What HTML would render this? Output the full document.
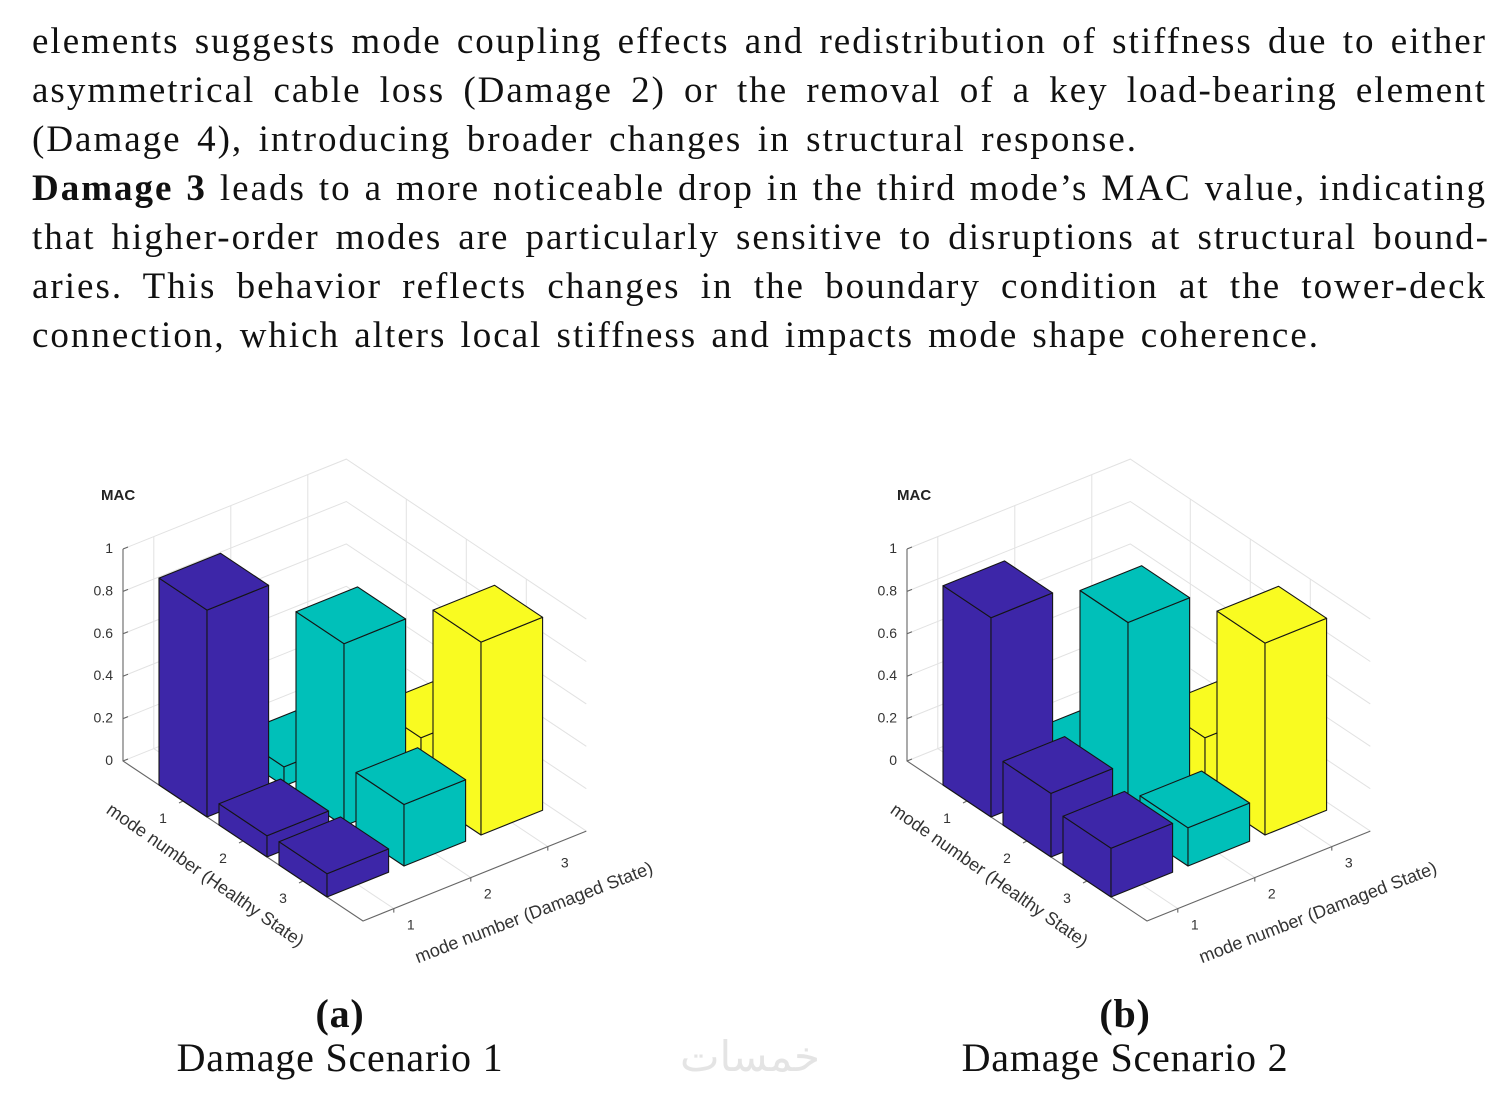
<!DOCTYPE html>
<html><head><meta charset="utf-8"><style>
html,body{margin:0;padding:0;background:#fff;}
#wrap{position:relative;width:1500px;height:1102px;overflow:hidden;background:#fff;}
.ln{position:absolute;left:32px;font-family:"Liberation Serif",serif;font-size:37px;letter-spacing:2.0px;color:#111;white-space:nowrap;text-align:justify;text-align-last:justify;height:49px;line-height:49px;}
.cap{position:absolute;font-family:"Liberation Serif",serif;font-size:40px;letter-spacing:0.8px;color:#111;text-align:center;width:500px;}
svg{position:absolute;left:0;top:0;}
</style></head><body>
<div id="wrap">
<div>
<div class="ln" style="top:17px;width:1455px">elements suggests mode coupling effects and redistribution of stiffness due to either</div>
<div class="ln" style="top:66px;width:1455px">asymmetrical cable loss (Damage 2) or the removal of a key load-bearing element</div>
<div class="ln" style="top:115px;width:1106px">(Damage 4), introducing broader changes in structural response.</div>
<div class="ln" style="top:164px;width:1455px"><b>Damage 3</b> leads to a more noticeable drop in the third mode’s MAC value, indicating</div>
<div class="ln" style="top:213px;width:1458px">that higher-order modes are particularly sensitive to disruptions at structural bound-</div>
<div class="ln" style="top:262px;width:1455px">aries. This behavior reflects changes in the boundary condition at the tower-deck</div>
<div class="ln" style="top:311px;width:1288px">connection, which alters local stiffness and impacts mode shape coherence.</div>
</div>
<svg id="chart" width="1500" height="1102" viewBox="0 0 1500 1102"></svg>
<div class="cap" style="left:90px;top:990px;font-weight:bold">(a)</div>
<div class="cap" style="left:90px;top:1034px">Damage Scenario 1</div>
<div class="cap" style="left:875px;top:990px;font-weight:bold">(b)</div>
<div class="cap" style="left:875px;top:1034px">Damage Scenario 2</div>
<div style="position:absolute;left:650px;top:1032px;width:200px;text-align:center;font-family:'DejaVu Sans',sans-serif;font-size:42px;color:#e4e4e4">خمسات</div>
</div>
<script>
const healthyCats = [1, 2, 3];
const damagedCats = [1, 2, 3];
const zTicks = [0, 0.2, 0.4, 0.6, 0.8, 1];
const zTickLabels = ["0", "0.2", "0.4", "0.6", "0.8", "1"];
// Scenario 1: values per damaged-mode column, indexed by healthy mode
const scen1Damaged1 = [0.976, 0.10, 0.11];
const scen1Damaged2 = [0.09, 0.86, 0.29];
const scen1Damaged3 = [0.05, 0.27, 0.91];
// Scenario 2
const scen2Damaged1 = [0.94, 0.30, 0.23];
const scen2Damaged2 = [0.09, 0.96, 0.18];
const scen2Damaged3 = [0.05, 0.27, 0.905];
const colColors = ["#3d26a8", "#00c0b9", "#f9fb21"];

const NS = "http://www.w3.org/2000/svg";
const svg = document.getElementById("chart");
const I0 = 0, I1 = 4, J0 = 0.6, J1 = 3.5;

function mk(tag, attrs, parent) {
  const e = document.createElementNS(NS, tag);
  for (const k in attrs) e.setAttribute(k, attrs[k]);
  (parent || svg).appendChild(e);
  return e;
}
function makeProj(ox) {
  return function (i, j, z) {
    return [ox + 159 + (i - 0.6) * 60 + (j - 0.6) * 77,
            785 + (i - 0.6) * 40 - (j - 0.6) * 31 - z * 212];
  };
}
function pts(arr) { return arr.map(p => p[0].toFixed(1) + "," + p[1].toFixed(1)).join(" "); }

function drawChart(ox, cols, key, macDx) {
  const P = makeProj(ox);
  const g = mk("g", {});
  
  
  const grid = mk("g", { stroke: "#e2e2e2", "stroke-width": 1, fill: "none" }, g);
  
  
  zTicks.forEach(z => {
    const a = P(I0, J0, z), b = P(I0, J1, z), c = P(I1, J1, z);
    const l = mk("polyline", { points: pts([a, b, c]) }, grid);
    
    
  });
  damagedCats.forEach(j => {
    const l = mk("polyline", { points: pts([P(I0, j, 0), P(I0, j, 1)]) }, grid);
    
    
    const f = mk("polyline", { points: pts([P(I0, j, 0), P(I1, j, 0)]) }, grid);
    
    
  });
  healthyCats.forEach(i => {
    const l = mk("polyline", { points: pts([P(i, J1, 0), P(i, J1, 1)]) }, grid);
    
    
    const f = mk("polyline", { points: pts([P(i, J0, 0), P(i, J1, 0)]) }, grid);
    
    
  });
  const ax = mk("g", { stroke: "#666", "stroke-width": 1.1, fill: "none" }, g);
  
  
  mk("polyline", { points: pts([P(I0, J0, 1), P(I0, J0, 0), P(I1, J0, 0), P(I1, J1, 0)]) }, ax);
  zTicks.forEach(z => { const a = P(I0, J0, z); mk("line", { x1: a[0], y1: a[1], x2: a[0] + 5, y2: a[1] - 2 }, ax); });
  healthyCats.forEach(i => { const a = P(i, J0, 0); mk("line", { x1: a[0], y1: a[1], x2: a[0] - 4, y2: a[1] + 2 }, ax); });
  damagedCats.forEach(j => { const a = P(I1, j, 0); mk("line", { x1: a[0], y1: a[1], x2: a[0], y2: a[1] + 4 }, ax); });
  const tf = 'font-family:"Liberation Sans",sans-serif;font-size:14px;fill:#333';
  zTicks.forEach((z, k) => {
    const a = P(I0, J0, z);
    const t = mk("text", { x: a[0] - 10, y: a[1] + 4, "text-anchor": "end", style: tf }, g);
    t.textContent = zTickLabels[k];
    
    
  });
  healthyCats.forEach(i => {
    const a = P(i, J0, 0);
    const t = mk("text", { x: a[0] - 20, y: a[1] + 22, "text-anchor": "middle", style: tf }, g);
    t.textContent = String(i);
    
    
  });
  damagedCats.forEach(j => {
    const a = P(I1, j, 0);
    const t = mk("text", { x: a[0] + 17, y: a[1] + 21, "text-anchor": "middle", style: tf }, g);
    t.textContent = String(j);
    
    
  });
  const lf = 'font-family:"Liberation Sans",sans-serif;font-size:18px;fill:#333';
  const hx = ox + 202, hy = 880;
  const h = mk("text", { x: hx, y: hy, "text-anchor": "middle", style: lf, transform: "rotate(35 " + hx + " " + hy + ")" }, g);
  h.textContent = "mode number (Healthy State)";
  
  
  const dx = ox + 536, dy = 918;
  const d = mk("text", { x: dx, y: dy, "text-anchor": "middle", style: lf, transform: "rotate(-21 " + dx + " " + dy + ")" }, g);
  d.textContent = "mode number (Damaged State)";
  
  
  const m = mk("text", { x: ox + 101 + macDx, y: 500, style: 'font-family:"Liberation Sans",sans-serif;font-size:15px;font-weight:bold;fill:#222' }, g);
  m.textContent = "MAC";
  
  
  const bars = [];
  damagedCats.forEach((j, jc) => healthyCats.forEach((i, ic) => bars.push({ i: i, j: j, v: cols[jc][ic], c: colColors[jc] })));
  bars.sort((a, b) => (a.i - a.j) - (b.i - b.j));
  const w = 0.4;
  bars.forEach(b => {
    const bg = mk("g", { fill: b.c, stroke: "#151515", "stroke-width": 1.1, "stroke-linejoin": "round" }, g);
    
    
    const i0 = b.i - w, i1 = b.i + w, j0 = b.j - w, j1 = b.j + w, v = b.v;
    mk("polygon", { points: pts([P(i0, j0, 0), P(i1, j0, 0), P(i1, j0, v), P(i0, j0, v)]) }, bg);
    mk("polygon", { points: pts([P(i1, j0, 0), P(i1, j1, 0), P(i1, j1, v), P(i1, j0, v)]) }, bg);
    mk("polygon", { points: pts([P(i0, j0, v), P(i1, j0, v), P(i1, j1, v), P(i0, j1, v)]) }, bg);
  });
}
drawChart(0, [scen1Damaged1, scen1Damaged2, scen1Damaged3], "a", 0);
drawChart(784, [scen2Damaged1, scen2Damaged2, scen2Damaged3], "b", 12);
</script>
</body></html>
